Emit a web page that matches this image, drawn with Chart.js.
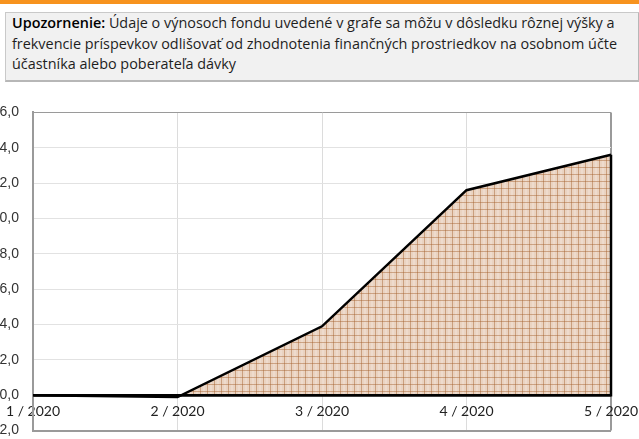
<!DOCTYPE html>
<html>
<head>
<meta charset="utf-8">
<script src="https://cdn.jsdelivr.net/npm/chart.js@4.4.1/dist/chart.umd.min.js"></script>
<style>
    body { margin: 0; width: 639px; height: 439px; overflow: hidden; background: #fff; position: relative; font-family: "Open Sans", Lato, sans-serif; }
    .top-bar { position: absolute; left: 0; top: 0; width: 639px; height: 4px; background: #f7931e; }
    .notice { position: absolute; left: 5px; top: 12px; width: 620px; height: 67px; padding: 0 6px 0 6px; background: #f1f1f1; border: 1px solid #c9c9c9; border-right: 2px solid #b7b7b7; border-bottom: 2px solid #b7b7b7; font-size: 14.4px; line-height: 20.5px; color: #1e1e1e; }
    .notice b { color: #000; font-weight: 600; }
    #chartFund { position: absolute; left: -10px; top: 90px; }
</style>
</head>
<body>
<div class="top-bar"></div>
<div class="notice"><b>Upozornenie:</b> Údaje o výnosoch fondu uvedené v grafe sa môžu v dôsledku rôznej výšky a<br>frekvencie príspevkov odlišovať od zhodnotenia finančných prostriedkov na osobnom účte<br>účastníka alebo poberateľa dávky</div>
<canvas id="chartFund" width="672" height="363"></canvas>

<script>
// data
var months = ["1 / 2020", "2 / 2020", "3 / 2020", "4 / 2020", "5 / 2020"];
var fundValues = [0.0, -0.1, 3.9, 11.6, 13.6];
var yTicks = [-2, 0, 2, 4, 6, 8, 10, 12, 14, 16];

document.addEventListener('DOMContentLoaded', function () {
    DrawFundChart();
});

//checked pattern for the area
function GetGridPattern() {
    var size = 7;
    var c = document.createElement('canvas');
    c.width = size;
    c.height = size;
    var ctx = c.getContext('2d');
    ctx.fillStyle = '#ead3c1';
    ctx.fillRect(0, 0, size, size);
    ctx.fillStyle = 'rgba(255,255,255,0.2)';
    ctx.fillRect(3, 0, 2, size);
    ctx.fillStyle = 'rgba(165,95,45,0.45)';
    ctx.fillRect(0, 0, size, 1);
    ctx.fillRect(0, 0, 1, size);
    return ctx.createPattern(c, 'repeat');
}

//outline the closing edges of the area in black
var areaOutline = {
    id: 'areaOutline',
    afterDatasetsDraw: function (chart) {
        var meta = chart.getDatasetMeta(0);
        var first = meta.data[0];
        var last = meta.data[meta.data.length - 1];
        var zeroY = chart.scales.y.getPixelForValue(0);
        var ctx = chart.ctx;
        ctx.save();
        ctx.strokeStyle = '#000';
        ctx.lineWidth = 2.5;
        ctx.beginPath();
        ctx.moveTo(last.x, last.y);
        ctx.lineTo(last.x, zeroY);
        ctx.lineTo(first.x, zeroY);
        ctx.stroke();
        ctx.restore();
    }
};

function DrawFundChart() {
    var lastIndex = months.length - 1;

    var chart = new Chart(document.getElementById('chartFund'), {
        type: 'line',
        data: {
            labels: months,
            datasets: [{
                data: fundValues,
                borderColor: '#000',
                borderWidth: 2.5,
                backgroundColor: GetGridPattern(),
                fill: 'origin',
                pointRadius: 0,
                tension: 0
            }]
        },
        options: {
            responsive: false,
            animation: false,
            layout: {
                padding: { top: 15, right: 51, bottom: 0, left: 0 }
            },
            plugins: {
                legend: { display: false },
                tooltip: { enabled: false }
            },
            scales: {
                x: {
                    position: { y: 0 },
                    offset: false,
                    border: { display: false },
                    grid: {
                        color: function (ctx) {
                            return ctx.index === lastIndex ? '#9a9a9a' : '#dcdcdc';
                        },
                        lineWidth: function (ctx) {
                            return ctx.index === lastIndex ? 2 : 1;
                        },
                        tickLength: 6
                    },
                    ticks: {
                        color: '#222',
                        padding: 2,
                        maxRotation: 0,
                        font: { family: 'Lato', size: 14 }
                    }
                },
                y: {
                    min: -2,
                    max: 16,
                    afterBuildTicks: function (axis) {
                        axis.ticks = yTicks.map(function (v) { return { value: v }; });
                    },
                    afterFit: function (axis) {
                        axis.width = 43;
                    },
                    border: { display: true, color: '#9a9a9a', width: 2 },
                    grid: {
                        drawTicks: false,
                        color: function (ctx) {
                            if (ctx.tick.value === 0) return '#000';
                            if (ctx.tick.value === 16 || ctx.tick.value === -2) return '#9a9a9a';
                            return '#e2e2e2';
                        },
                        lineWidth: function (ctx) {
                            if (ctx.tick.value === 0) return 2.5;
                            if (ctx.tick.value === -2) return 2;
                            return 1;
                        }
                    },
                    ticks: {
                        color: '#333',
                        padding: 14,
                        font: { family: 'Liberation Sans', size: 14 },
                        callback: function (value) {
                            return value.toFixed(1).replace('.', ',');
                        }
                    }
                }
            }
        },
        plugins: [areaOutline]
    });
}
</script>
</body>
</html>
